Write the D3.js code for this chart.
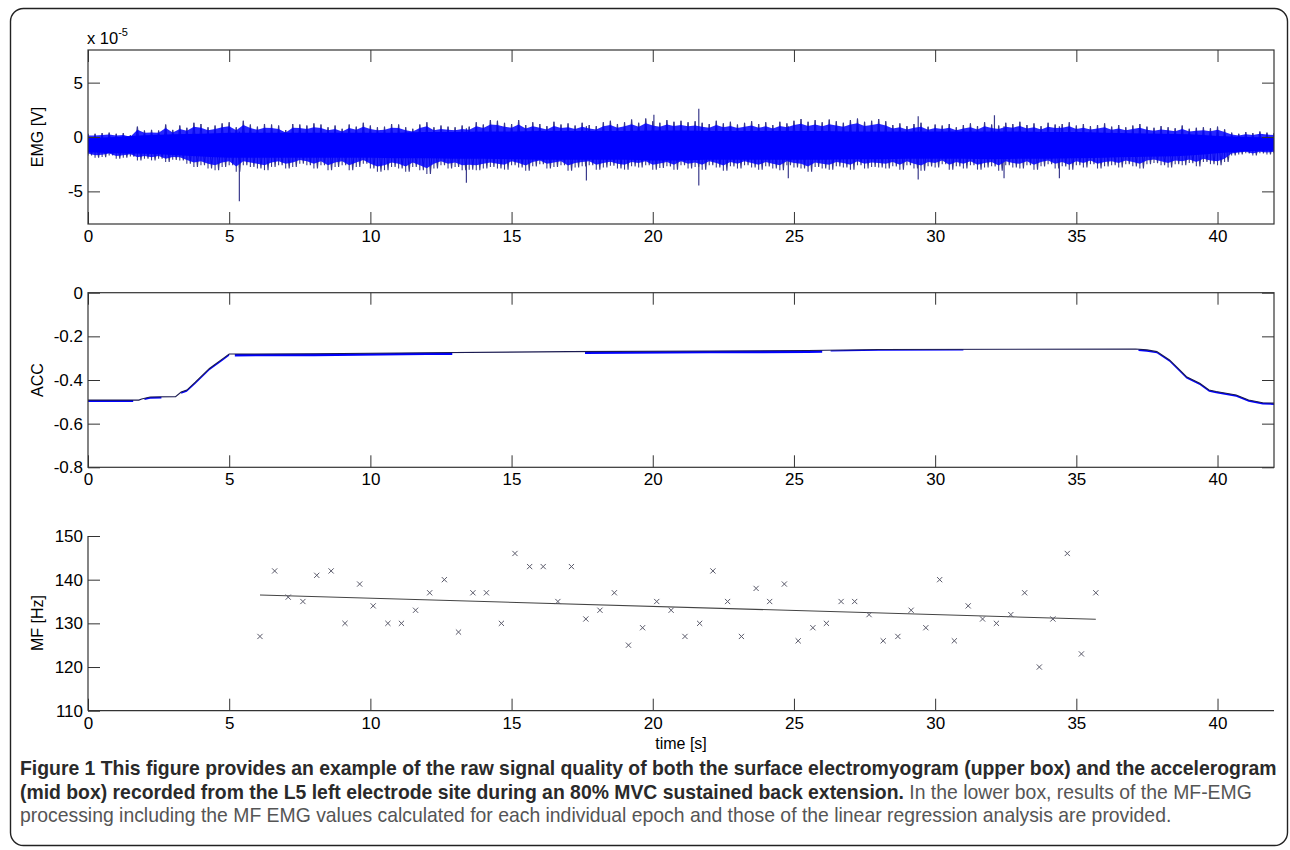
<!DOCTYPE html>
<html><head><meta charset="utf-8">
<script src="https://cdn.jsdelivr.net/npm/d3@7"></script>
<style>
body{margin:0;background:#fff}
svg{display:block}
.tick text{font-family:"Liberation Sans",Arial,sans-serif;font-size:17px;fill:#000}
.lab{font-family:"Liberation Sans",Arial,sans-serif;font-size:16px;fill:#000}
</style></head>
<body><svg id="c" width="1290" height="850"></svg>
<script>
// ---------------- DATA ----------------
const xTicks = [0,5,10,15,20,25,30,35,40];
const emgTicks = [-5,0,5];
const accTicks = [-0.8,-0.6,-0.4,-0.2,0];
const mfTicks = [110,120,130,140,150];

// EMG (x1e-5 V): spike extremes per 0.25 s window, t = 0 .. 42
const emgStep = 0.25;
const emgMax = [
0.3,0.3,0.35,0.4,0.3,0.35,0.15,0.95,0.6,0.65,0.6,1.15,0.65,1.05,0.85,1.3,1.2,0.9,1.05,1.25,
1.35,0.9,1.5,1.15,0.95,1.2,1.15,1.05,0.65,1.2,1.15,1.05,1.25,1.15,0.9,1.05,0.75,1.15,0.95,1.3,
1.05,0.9,0.95,1.2,1.15,0.9,0.75,1.15,1.35,0.9,1.05,0.95,0.9,1.05,0.95,1.35,1.15,1.55,
1.5,1.3,1.2,1.55,1.1,1.35,1.2,1.0,1.4,1.15,1.25,1.05,1.3,1.1,1.0,1.35,1.5,1.2,1.35,1.6,
1.3,1.7,1.45,1.3,1.55,1.4,1.5,1.35,1.45,1.3,1.2,1.5,1.25,1.4,1.15,1.3,1.45,1.2,1.35,1.1,
1.4,1.25,1.5,1.65,1.4,1.55,1.35,1.6,1.45,1.3,1.55,1.7,1.4,1.5,1.65,1.45,
1.1,1.25,1.0,1.2,1.3,0.95,1.15,1.05,1.2,0.9,1.1,1.25,1.0,1.35,1.15,1.05,1.3,1.2,1.4,1.1,
1.25,1.0,1.3,1.15,1.2,1.35,1.05,1.2,1.0,1.1,1.25,0.95,1.1,0.9,1.05,1.2,0.95,0.85,1.0,0.9,
0.8,1.05,0.75,0.85,0.9,0.8,0.95,0.7,0.4,0.3,0.45,0.35,0.5,0.4,0.35];
const emgMin = [
-1.7,-1.9,-1.85,-1.7,-2.0,-1.9,-1.8,-2.15,-2.0,-2.15,-2.0,-2.3,-2.1,-2.15,-2.45,-2.75,-2.6,-2.9,-3.05,-2.75,
-2.6,-3.2,-2.6,-2.75,-2.9,-3.05,-2.75,-2.6,-2.9,-2.75,-2.45,-2.6,-2.9,-2.6,-3.05,-2.75,-2.6,-3.05,-2.75,-2.45,
-2.9,-3.2,-3.05,-2.75,-2.9,-3.2,-2.75,-3.05,-3.4,-2.9,-2.6,-2.9,-2.75,-3.05,-3.0,-3.05,-2.9,-2.75,
-2.9,-3.0,-2.6,-2.8,-3.1,-2.7,-2.5,-2.9,-2.75,-2.6,-3.1,-2.8,-2.7,-2.6,-3.0,-2.8,-2.65,-2.9,-3.0,-2.7,
-2.8,-2.6,-3.0,-2.85,-2.7,-3.0,-2.6,-2.9,-2.75,-3.0,-2.6,-2.8,-3.1,-2.7,-2.9,-2.6,-2.8,-3.0,-2.7,-2.9,
-3.05,-2.6,-2.8,-2.9,-3.2,-2.75,-2.9,-3.0,-2.7,-2.8,-3.0,-2.6,-2.9,-2.75,-2.8,-2.9,
-2.7,-3.0,-2.6,-2.9,-3.1,-2.7,-2.8,-2.5,-3.0,-2.7,-2.9,-2.6,-3.0,-2.8,-2.7,-3.1,-2.6,-2.8,-2.9,-2.6,
-3.0,-2.7,-2.5,-2.9,-2.7,-3.0,-2.6,-2.8,-2.5,-2.9,-2.7,-2.6,-2.8,-2.5,-2.7,-2.9,-2.5,-2.4,-2.6,-2.8,
-2.5,-2.6,-2.4,-2.7,-2.3,-2.5,-2.6,-2.3,-1.7,-1.6,-1.5,-1.7,-1.5,-1.6,-1.5];
// dense core of the EMG band, per 1 s, t = 0 .. 42
const emgCoreHi = [-0.1,0.0,0.15,0.25,0.3,0.4,0.4,0.4,0.4,0.4,0.4,0.4,0.45,0.45,0.5,0.5,0.55,0.55,0.55,0.55,0.6,0.6,0.55,0.55,0.55,0.55,0.55,0.5,0.5,0.5,0.5,0.5,0.5,0.5,0.45,0.45,0.4,0.35,0.3,0.25,0.1,0.0,-0.05];
const emgCoreLo = [-1.4,-1.5,-1.55,-1.65,-1.8,-1.9,-1.9,-1.9,-1.9,-1.9,-1.9,-1.95,-1.95,-2.0,-2.0,-2.05,-2.1,-2.1,-2.1,-2.1,-2.15,-2.15,-2.1,-2.1,-2.1,-2.1,-2.1,-2.05,-2.05,-2.0,-2.0,-2.0,-2.05,-2.0,-2.0,-1.95,-1.9,-1.85,-1.8,-1.7,-1.5,-1.3,-1.25];
// prominent single spikes
const emgSpikeTime = [5.36,13.4,17.65,20.04,21.63,24.8,29.4,32.1,32.44,34.4];
const emgSpikeMax  = [0.5,0.8,1.0,2.05,2.6,1.0,1.9,2.0,1.0,1.0];
const emgSpikeMin  = [-5.9,-4.2,-4.0,-2.0,-4.45,-3.8,-3.9,-2.0,-3.8,-3.8];

// ACC
const accTime  = [0,1.8,1.9,2.2,3.1,3.3,3.5,3.8,4.3,4.8,5.0,8,12,17,22,25.5,28,37.1,37.5,37.85,38.3,38.66,38.9,39.37,39.7,39.95,40.66,41.1,41.6,42];
const accValue = [-0.492,-0.492,-0.487,-0.478,-0.476,-0.455,-0.446,-0.41,-0.347,-0.30,-0.281,-0.28,-0.275,-0.27,-0.267,-0.265,-0.26,-0.258,-0.262,-0.27,-0.308,-0.354,-0.385,-0.415,-0.446,-0.453,-0.469,-0.492,-0.504,-0.506];
const accNoiseStart = [0,2.0,3.3,5.2,17.6,26.3,37.2];
const accNoiseEnd   = [1.6,2.6,5.0,12.9,26.0,31.0,42];
const accNoiseDepth = [0.009,0.008,0.008,0.011,0.011,0.006,0.008];

// MF-EMG per epoch
const mfTime = [6.09,6.61,7.09,7.61,8.1,8.61,9.1,9.62,10.1,10.62,11.1,11.6,12.1,12.62,13.12,13.63,14.11,14.64,15.12,15.64,16.12,16.64,17.12,17.63,18.13,18.64,19.14,19.64,20.14,20.65,21.14,21.66,22.13,22.65,23.14,23.66,24.14,24.66,25.15,25.67,26.15,26.67,27.15,27.66,28.16,28.68,29.15,29.67,30.16,30.68,31.17,31.68,32.17,32.68,33.17,33.69,34.17,34.68,35.18,35.69];
const mfValue = [127,142,136,135,141,142,130,139,134,130,130,133,137,140,128,137,137,130,146,143,143,135,143,131,133,137,125,129,135,133,127,130,142,135,127,138,135,139,126,129,130,135,135,132,126,127,133,129,140,126,134,131,130,132,137,120,131,146,123,137];

const captionBold1 = "Figure 1 This figure provides an example of the raw signal quality of both the surface electromyogram (upper box) and the accelerogram";
const captionBold2 = "(mid box) recorded from the L5 left electrode site during an 80% MVC sustained back extension.";
const captionNorm2 = " In the lower box, results of the MF-EMG";
const captionNorm3 = "processing including the MF EMG values calculated for each individual epoch and those of the linear regression analysis are provided.";

// ---------------- DRAW ----------------
const svg = d3.select("#c");
svg.append("rect").attr("width",1290).attr("height",850).attr("fill","#fff");
svg.append("rect").attr("x",10.5).attr("y",8.5).attr("width",1277).attr("height",837)
  .attr("rx",13).attr("fill","none").attr("stroke","#222").attr("stroke-width",1.4);

const L = 88, R = 1274;
const x = d3.scaleLinear([0,42],[L,R]);
const yE = d3.scaleLinear([-8,8],[224,50]);
const yA = d3.scaleLinear([-0.8,0],[467.3,292.7]);
const yM = d3.scaleLinear([110,150],[710.7,536]);
const axisCol = "#333";

function styleAxis(g){
  g.select(".domain").remove();
  g.selectAll(".tick line").attr("stroke",axisCol);
}
function framedAxes(yScale, yTicks, top, bottom){
  svg.append("g").attr("transform",`translate(0,${bottom})`)
    .call(d3.axisBottom(x).tickValues(xTicks).tickSizeInner(-12).tickSizeOuter(0).tickPadding(6).tickFormat(d=>String(d))).call(styleAxis);
  svg.append("g").attr("transform",`translate(0,${top})`)
    .call(d3.axisTop(x).tickValues(xTicks).tickSizeInner(-12).tickSizeOuter(0).tickFormat(()=> "")).call(styleAxis);
  svg.append("g").attr("transform",`translate(${L},0)`)
    .call(d3.axisLeft(yScale).tickValues(yTicks).tickSizeInner(-12).tickSizeOuter(0).tickPadding(5).tickFormat(d=>String(d))).call(styleAxis);
  svg.append("g").attr("transform",`translate(${R},0)`)
    .call(d3.axisRight(yScale).tickValues(yTicks).tickSizeInner(-12).tickSizeOuter(0).tickFormat(()=> "")).call(styleAxis);
  svg.append("rect").attr("x",L).attr("y",top).attr("width",R-L).attr("height",bottom-top)
    .attr("fill","none").attr("stroke",axisCol).attr("stroke-width",1.2);
}

// ---- EMG panel ----
const defs = svg.append("defs");
defs.append("clipPath").attr("id","clipE").append("rect").attr("x",L).attr("y",50).attr("width",R-L).attr("height",174);
const gE = svg.append("g").attr("clip-path","url(#clipE)");
const spikeCol = "#3a3a8c";
const win = emgMax.map((v,i)=>({t:i*emgStep, hi:v, lo:emgMin[i]}));
// zig-zag trace through the window extremes
const zz = [];
win.forEach(d=>{ zz.push([d.t, d.hi]); zz.push([d.t+emgStep/2, d.lo]); });
gE.append("path").datum(zz)
  .attr("d", d3.line().x(d=>x(d[0])).y(d=>yE(d[1])))
  .attr("fill","none").attr("stroke",spikeCol).attr("stroke-width",1.1);
gE.selectAll("line.sp").data(win)
  .join("line").attr("class","sp")
  .attr("x1",d=>x(d.t)).attr("x2",d=>x(d.t))
  .attr("y1",d=>yE(d.hi)).attr("y2",d=>yE(d.lo))
  .attr("stroke",spikeCol).attr("stroke-width",1.1);
gE.selectAll("line.sp2").data(emgSpikeTime.map((t,i)=>({t, hi:emgSpikeMax[i], lo:emgSpikeMin[i]})))
  .join("line").attr("class","sp2")
  .attr("x1",d=>x(d.t)).attr("x2",d=>x(d.t))
  .attr("y1",d=>yE(d.hi)).attr("y2",d=>yE(d.lo))
  .attr("stroke",spikeCol).attr("stroke-width",1.2);
// blue fill of the dense part of the signal
gE.append("path").datum(win)
  .attr("d", d3.area().x(d=>x(d.t)).y0(d=>yE(d.lo*0.8-0.15)).y1(d=>yE(d.hi*0.8-0.1)))
  .attr("fill","#0000ff").attr("opacity",0.85);
gE.append("path").datum(emgCoreHi.map((v,i)=>({t:i, hi:v, lo:emgCoreLo[i]})))
  .attr("d", d3.area().x(d=>x(d.t)).y0(d=>yE(d.lo)).y1(d=>yE(d.hi)).curve(d3.curveMonotoneX))
  .attr("fill","#0000ff");
framedAxes(yE, emgTicks, 50, 224);

// x 10^-5
const mult = svg.append("text").attr("class","lab").attr("x",87).attr("y",44).style("font-size","16.5px");
mult.append("tspan").text("x 10");
mult.append("tspan").attr("dy",-8).style("font-size","11px").text("-5");

// ---- ACC panel ----
defs.append("clipPath").attr("id","clipA").append("rect").attr("x",L).attr("y",292.7).attr("width",R-L).attr("height",174.6);
const gA = svg.append("g").attr("clip-path","url(#clipA)");
const accAt = t => {
  const i = Math.max(1, Math.min(accTime.length-1, d3.bisectRight(accTime, t)));
  const t0=accTime[i-1], t1=accTime[i];
  return accValue[i-1] + (accValue[i]-accValue[i-1])*((t-t0)/(t1-t0));
};
accNoiseStart.forEach((s,k)=>{
  const e = accNoiseEnd[k], dep = accNoiseDepth[k];
  const ts = [s, ...accTime.filter(t=>t>s && t<e), e];
  gA.append("path").datum(ts)
    .attr("d", d3.area().x(t=>x(t)).y0(t=>yA(accAt(t))).y1(t=>yA(accAt(t)-dep)))
    .attr("fill","#0000ff");
});
gA.append("path").datum(accTime.map((t,i)=>[t,accValue[i]]))
  .attr("d", d3.line().x(d=>x(d[0])).y(d=>yA(d[1])))
  .attr("fill","none").attr("stroke","#1a1a50").attr("stroke-width",1.1);
framedAxes(yA, accTicks, 292.7, 467.3);

// ---- MF panel ----
svg.append("g").attr("transform","translate(0,710.7)")
  .call(d3.axisBottom(x).tickValues(xTicks).tickSizeInner(-12).tickSizeOuter(0).tickPadding(6).tickFormat(d=>String(d))).call(styleAxis);
svg.append("g").attr("transform",`translate(${L},0)`)
  .call(d3.axisLeft(yM).tickValues(mfTicks).tickSizeInner(-12).tickSizeOuter(0).tickPadding(5).tickFormat(d=>String(d))).call(styleAxis);
svg.append("line").attr("x1",L).attr("x2",R).attr("y1",710.7).attr("y2",710.7).attr("stroke",axisCol).attr("stroke-width",1.2);
svg.append("line").attr("x1",L).attr("x2",L).attr("y1",536).attr("y2",710.7).attr("stroke",axisCol).attr("stroke-width",1.2);

// regression (least squares fit of the epoch values)
const mt = d3.mean(mfTime), mv = d3.mean(mfValue);
const slope = d3.sum(mfTime.map((t,i)=>(t-mt)*(mfValue[i]-mv))) / d3.sum(mfTime.map(t=>(t-mt)**2));
const icpt = mv - slope*mt;
const tEnds = d3.extent(mfTime);
svg.append("line").attr("x1",x(tEnds[0])).attr("x2",x(tEnds[1]))
  .attr("y1",yM(icpt+slope*tEnds[0])).attr("y2",yM(icpt+slope*tEnds[1]))
  .attr("stroke","#444").attr("stroke-width",1.1);
// markers
const s = 2.6;
svg.append("g").selectAll("path").data(mfTime.map((t,i)=>[t,mfValue[i]])).join("path")
  .attr("d", d=>{const px=x(d[0]), py=yM(d[1]); return `M${px-s},${py-s}L${px+s},${py+s}M${px-s},${py+s}L${px+s},${py-s}`;})
  .attr("stroke","#5a5a6a").attr("stroke-width",1).attr("fill","none");

// axis labels
svg.append("text").attr("class","lab").attr("transform","translate(43,137) rotate(-90)").attr("text-anchor","middle").text("EMG [V]");
svg.append("text").attr("class","lab").attr("transform","translate(43,380) rotate(-90)").attr("text-anchor","middle").text("ACC");
svg.append("text").attr("class","lab").attr("transform","translate(43,623) rotate(-90)").attr("text-anchor","middle").text("MF [Hz]");
svg.append("text").attr("class","lab").attr("x",681).attr("y",749).attr("text-anchor","middle").text("time [s]");

// caption: font size fitted so that the first line spans the box width
const capFont = "'Liberation Sans', Arial, sans-serif";
const c1 = svg.append("text").attr("x",20).attr("y",775).style("font-family",capFont).style("font-size","17px")
  .style("font-weight","bold").attr("fill","#2a2a2a").text(captionBold1);
const w1 = c1.node().getComputedTextLength();
const capSize = 17 * 1258 / w1;
c1.style("font-size", capSize + "px");
const c2 = svg.append("text").attr("x",20).attr("y",798.5).style("font-family",capFont).style("font-size",capSize+"px");
c2.append("tspan").style("font-weight","bold").attr("fill","#2a2a2a").text(captionBold2);
c2.append("tspan").attr("fill","#555").text(captionNorm2);
const c3 = svg.append("text").attr("x",20).attr("y",822).style("font-family",capFont).style("font-size",capSize+"px")
  .attr("fill","#555").text(captionNorm3);
</script></body></html>
